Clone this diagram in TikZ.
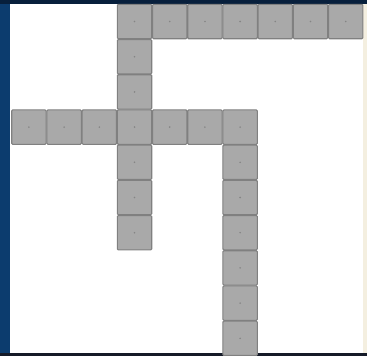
\documentclass[tikz,border=0pt]{standalone}
\definecolor{cellfill}{HTML}{A9A9A9}
\definecolor{celledge}{HTML}{808080}
\definecolor{celldot}{HTML}{858585}
\definecolor{frameblue}{HTML}{0C3C6E}
\definecolor{frametop}{HTML}{071F3C}
\definecolor{framebot}{HTML}{151A28}
\definecolor{framecream}{HTML}{F4EFE0}
\tikzset{
  cell/.style={rectangle, minimum size=34.4pt, inner sep=0pt, fill=cellfill,
    draw=celledge, line width=1.1pt, rounded corners=1pt,
    path picture={\fill[celldot] (path picture bounding box.center) circle (0.9pt);}}
}
\begin{document}
\begin{tikzpicture}[x=1pt,y=-1pt]
\useasboundingbox (0,0) rectangle (367,356);
\fill[white] (0,0) rectangle (367,356);
\fill[frameblue] (0,0) rectangle (10,356);
\fill[frametop] (0,0) rectangle (367,4);
\fill[framebot] (0,353) rectangle (367,356);
\fill[framecream] (363,4) rectangle (367,353);
\def\p{35.2}
% top row
\foreach \k in {0,...,6}
  \node[cell] (t\k) at ({134.5+\k*\p},21.5) {};
% left column below top row
\foreach \k in {1,2,4,5,6}
  \node[cell] (l\k) at (134.5,{21.5+\k*\p}) {};
% cross row
\foreach \k in {0,...,6}
  \node[cell] (c\k) at ({134.5+(\k-3)*\p},{21.5+3*\p}) {};
% right column below cross row
\foreach \k in {1,...,6}
  \node[cell] (r\k) at ({134.5+3*\p},{21.5+(3+\k)*\p}) {};
\end{tikzpicture}
\end{document}
